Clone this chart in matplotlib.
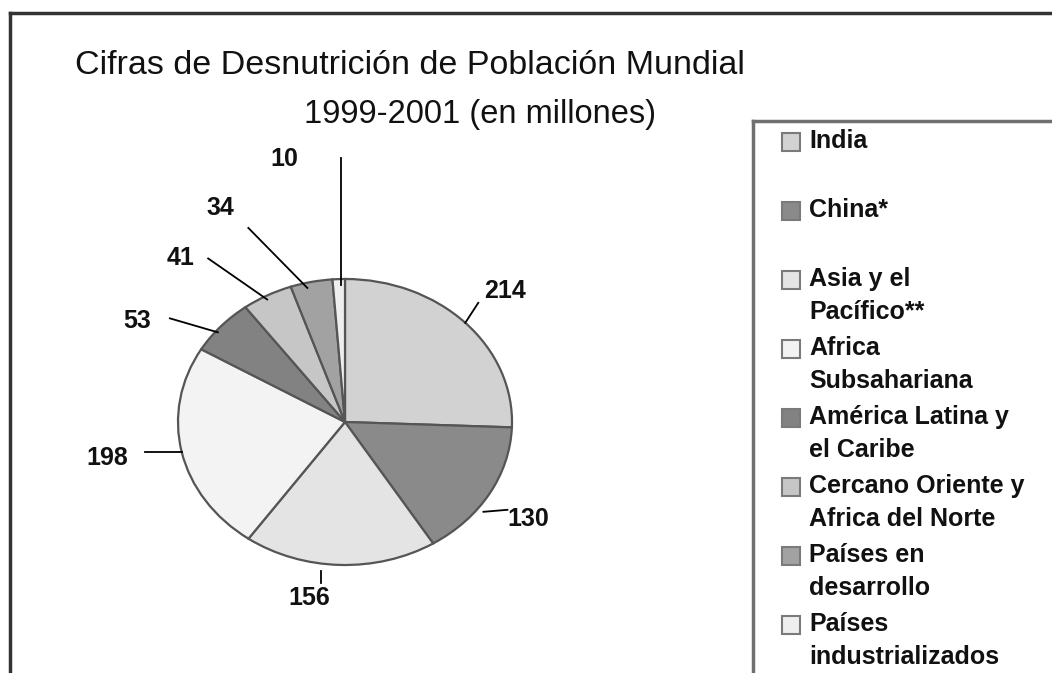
import numpy as np
import matplotlib
matplotlib.use("Agg")
import matplotlib.pyplot as plt
from matplotlib.patches import Rectangle
from matplotlib.lines import Line2D

# Datos (millones de personas desnutridas, 1999-2001)
regiones = ["India", "China*", "Asia y el\nPacífico**", "Africa\nSubsahariana",
            "América Latina y\nel Caribe", "Cercano Oriente y\nAfrica del Norte",
            "Países en\ndesarrollo", "Países\nindustrializados"]
valores = [214, 130, 156, 198, 53, 41, 34, 10]
colores = ["#d2d2d2", "#8a8a8a", "#e4e4e4", "#f3f3f3",
           "#828282", "#c6c6c6", "#a2a2a2", "#eeeeee"]

plt.rcParams['font.family'] = ['Liberation Sans', 'DejaVu Sans']

W, H = 1052, 673
fig = plt.figure(figsize=(W / 100, H / 100), dpi=100)

# Ejes que cubren toda la figura; el pie queda eliptico
CX, CY = 345, 422          # centro del pie (px, y desde arriba)
RX, RY = 167, 143          # radios en px
ax = fig.add_axes([0, 0, 1, 1])
wedges, _ = ax.pie(valores, colors=colores, startangle=90, counterclock=False,
                   wedgeprops=dict(edgecolor="#555555", linewidth=1.6))
ax.set_aspect('auto')
ax.set_xlim(-CX / RX, (W - CX) / RX)
ax.set_ylim((CY - H) / RY, CY / RY)
ax.axis('off')

# Etiquetas con lineas guia: (inicio linea, fin linea, texto) en px relativos al borde
guias = [
    ((0, 0), (13, -20), (40, -32)),
    ((-6, 18), (18, 16), (39, 25)),
    ((-19, 6), (-19, 18), (-31, 33)),
    ((0, 0), (-37, 0), (-74, 6)),
    ((-3, 6), (-51, -8), (-84, -5)),
    ((0, 4), (-59, -37), (-87, -37)),
    ((-4, 6), (-63, -54), (-91, -74)),
    ((2, 6), (2, -121), (-54, -120)),
]

def px(e, d):
    return e[0] + d[0] / RX, e[1] - d[1] / RY

for w, v, (a, b, t) in zip(wedges, valores, guias):
    ang = np.deg2rad((w.theta1 + w.theta2) / 2)
    borde = (np.cos(ang), np.sin(ang))
    p0, p1, pt = px(borde, a), px(borde, b), px(borde, t)
    ax.plot([p0[0], p1[0]], [p0[1], p1[1]], color="black", lw=1.3)
    ax.text(pt[0], pt[1], str(v), ha='center', va='center',
            fontsize=18, fontweight='bold', color="#111111")

# Titulos
fig.text(75 / W, 1 - 66 / H, "Cifras de Desnutrición de Población Mundial",
         fontsize=24.5, ha='left', va='center', color="#111111")
fig.text(480 / W, 1 - 115 / H, "1999-2001 (en millones)",
         fontsize=23.5, ha='center', va='center', color="#111111")

# Marco exterior (solo borde superior e izquierdo visibles)
fig.add_artist(Line2D([10 / W, 1.0], [1 - 13 / H, 1 - 13 / H], color="#333333", lw=2.5))
fig.add_artist(Line2D([10 / W, 10 / W], [1 - 13 / H, 0], color="#333333", lw=2.5))

# Leyenda manual
fig.add_artist(Line2D([753 / W, 1.0], [1 - 121 / H, 1 - 121 / H], color="#707070", lw=2.5))
fig.add_artist(Line2D([753 / W, 753 / W], [1 - 121 / H, 0], color="#707070", lw=2.5))
for i, (lab, col) in enumerate(zip(regiones, colores)):
    top = 133 + i * 69
    fig.add_artist(Rectangle((782 / W, 1 - (top + 18) / H), 18 / W, 18 / H,
                             facecolor=col, edgecolor="#7a7a7a", lw=1.5))
    fig.text(809 / W, 1 - (top - 4) / H, lab, fontsize=18, fontweight='bold',
             ha='left', va='top', linespacing=1.47, color="#111111")

fig.savefig("out.png", dpi=100)
